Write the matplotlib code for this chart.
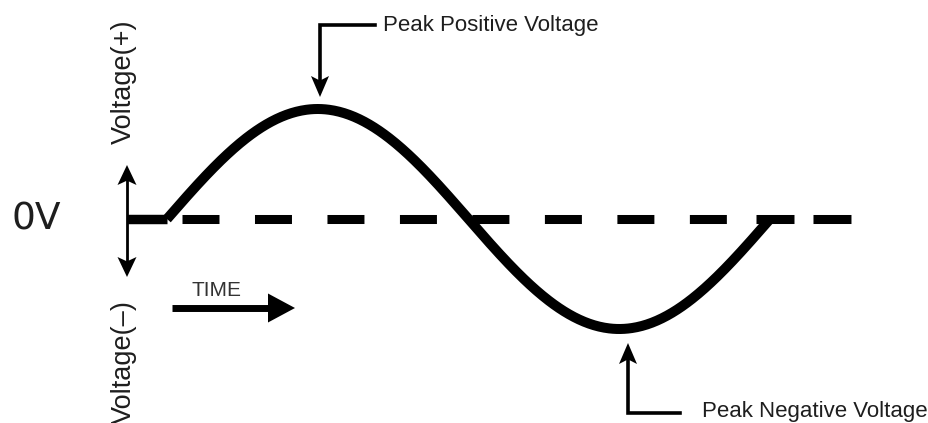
import numpy as np
import matplotlib
matplotlib.use("Agg")
import matplotlib.pyplot as plt

# --- data: one cycle of AC voltage (peak = 1) ---
peak_voltage = 1.0
cycle_time = np.linspace(0.0, 1.0, 481)          # one full period
voltage = peak_voltage * np.sin(2 * np.pi * cycle_time)
lead_in_time = [-0.066, 0.0]                      # flat 0V before the wave starts
lead_in_voltage = [0.0, 0.0]

zero_label = "0V"
pos_label = "Voltage(+)"
neg_label = "Voltage(–)"
time_label = "TIME"
peak_pos_label = "Peak Positive Voltage"
peak_neg_label = "Peak Negative Voltage"

# --- layout (pixels) ---
W, H = 929, 423
x0_px, period_px = 167, 603
zero_px, amp_px = 219, 110
ink = "black"
txt = "#1e1e1e"
font = ["Liberation Sans", "DejaVu Sans"]

fig = plt.figure(figsize=(W / 100, H / 100), dpi=100)
fig.patch.set_facecolor("white")

# wave axes in time / voltage units
ax = fig.add_axes([0, 0, 1, 1])
ax.set_xlim(-x0_px / period_px, (W - x0_px) / period_px)
ax.set_ylim((zero_px - H) / amp_px, zero_px / amp_px)
ax.axis("off")

# overlay axes in pixel units for the annotations
ov = fig.add_axes([0, 0, 1, 1], facecolor="none")
ov.set_xlim(0, W)
ov.set_ylim(H, 0)
ov.axis("off")


def head(tip, direction, length, width, notch=0.22):
    d = np.array(direction, dtype=float)
    d /= np.hypot(*d)
    p = np.array([-d[1], d[0]])
    tip = np.array(tip, dtype=float)
    back = tip - d * length
    pts = np.array([tip, back + p * width / 2, back + d * length * notch, back - p * width / 2])
    ov.fill(pts[:, 0], pts[:, 1], color=ink, lw=0, zorder=5)


# zero reference (dashed)
ov.plot([182, 727], [zero_px, zero_px], color=ink, lw=6.5,
        dashes=(37 / 9.03, 35.5 / 9.03), dash_capstyle="butt", zorder=2)
ov.plot([756, 851], [zero_px, zero_px], color=ink, lw=6.5,
        dashes=(38 / 9.03, 19 / 9.03), dash_capstyle="butt", zorder=2)

# the waveform
ax.plot(lead_in_time, lead_in_voltage, color=ink, lw=6.8, solid_capstyle="butt", zorder=3)
ax.plot(cycle_time, voltage, color=ink, lw=7.2, solid_capstyle="butt", zorder=3)

# vertical double arrow on the left
ov.plot([127, 127], [180, 262], color=ink, lw=2.0, zorder=4)
head((127, 165), (0, -1), 20, 19)
head((127, 277), (0, 1), 20, 19)

# time arrow
ov.plot([172, 272], [308, 308], color=ink, lw=5.0, solid_capstyle="butt", zorder=4)
head((295, 308), (1, 0), 27, 29, notch=0.0)

# peak positive callout
ov.plot([375, 320, 320], [25, 25, 84], color=ink, lw=2.6, solid_joinstyle="miter", zorder=4)
head((320, 97), (0, 1), 21, 18)

# peak negative callout
ov.plot([680, 628, 628], [413, 413, 356], color=ink, lw=2.6, solid_joinstyle="miter", zorder=4)
head((628, 343), (0, -1), 21, 18)

# labels
ov.text(36, zero_px + 1, zero_label, fontsize=27, family=["DejaVu Sans"], color=txt,
        ha="center", va="center")
ov.text(124, 82, pos_label, fontsize=19.5, family=font, color=txt,
        ha="center", va="center", rotation=90)
ov.text(124, 362, neg_label, fontsize=19.5, family=font, color=txt,
        ha="center", va="center", rotation=90)
ov.text(217, 290, time_label, fontsize=15, family=font, color="#333333",
        ha="center", va="center")
ov.text(383, 25, peak_pos_label, fontsize=16, family=font, color=txt,
        ha="left", va="center")
ov.text(702, 411, peak_neg_label, fontsize=16, family=font, color=txt,
        ha="left", va="center")

fig.savefig("out.png", dpi=100, facecolor="white")
